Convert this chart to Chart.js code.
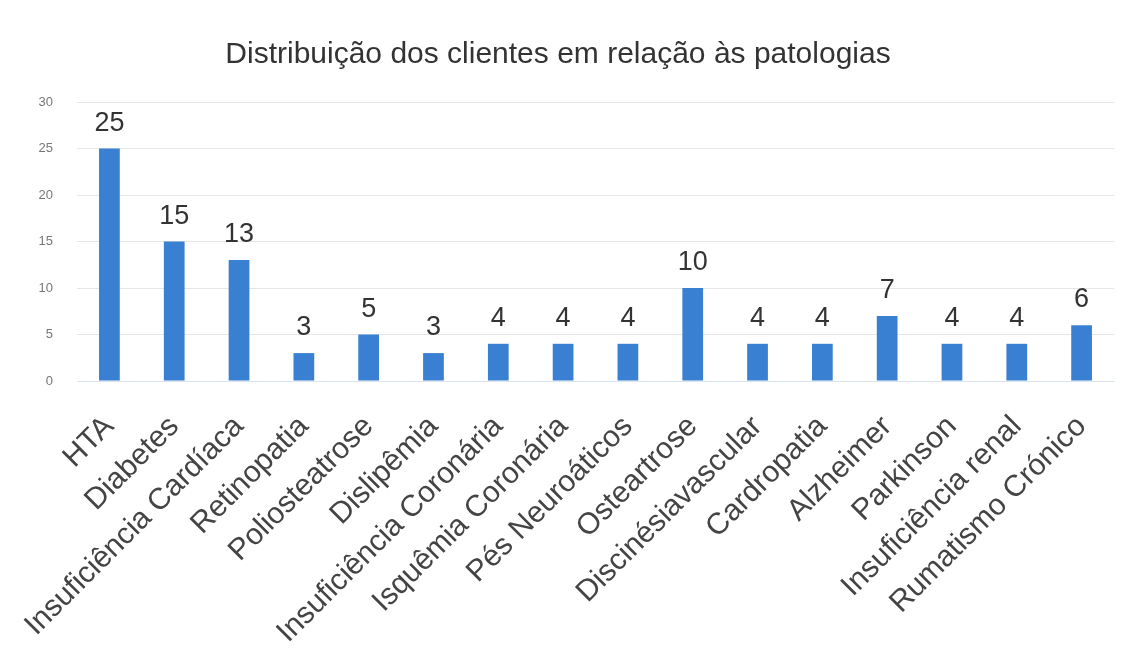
<!DOCTYPE html>
<html>
<head>
<meta charset="utf-8">
<script src="https://cdn.jsdelivr.net/npm/chart.js@4.4.0/dist/chart.umd.min.js"></script>
<style>
  html, body { margin: 0; padding: 0; background: #fff; }
  #wrap { width: 1139px; height: 666px; }
</style>
</head>
<body>
<div id="wrap"><canvas id="grafico" width="1139" height="666"></canvas></div>
<script>
// dados
const PATOLOGIAS = ['HTA', 'Diabetes', 'Insuficiência Cardíaca', 'Retinopatia', 'Poliosteatrose', 'Dislipêmia',
  'Insuficiência Coronária', 'Isquêmia Coronária', 'Pés Neuroáticos', 'Osteartrose', 'Discinésiavascular',
  'Cardropatia', 'Alzheimer', 'Parkinson', 'Insuficiência renal', 'Rumatismo Crónico'];
const CLIENTES = [25, 15, 13, 3, 5, 3, 4, 4, 4, 10, 4, 4, 7, 4, 4, 6];
const Y_TICKS = [0, 5, 10, 15, 20, 25, 30];

const FONTE = 'Liberation Sans, Arial, sans-serif';

// plugin simples para escrever o valor em cima de cada barra
const rotulosValor = {
  id: 'rotulosValor',
  afterDatasetsDraw(chart) {
    const ctx = chart.ctx;
    const meta = chart.getDatasetMeta(0);
    ctx.save();
    ctx.font = '27px ' + FONTE;
    ctx.fillStyle = '#333';
    ctx.textAlign = 'center';
    ctx.textBaseline = 'alphabetic';
    meta.data.forEach((bar, i) => {
      ctx.fillText(String(CLIENTES[i]), bar.x, bar.y - 18);
    });
    ctx.restore();
  }
};

new Chart(document.getElementById('grafico').getContext('2d'), {
  type: 'bar',
  data: {
    labels: PATOLOGIAS,
    datasets: [{
      data: CLIENTES,
      backgroundColor: '#3a80d2',
      barPercentage: 0.64,
      categoryPercentage: 0.5
    }]
  },
  options: {
    responsive: false,
    animation: false,
    layout: { padding: { left: 2, right: 25, top: 0, bottom: 0 } },
    plugins: {
      legend: { display: false },
      tooltip: { enabled: false },
      title: {
        display: true,
        text: 'Distribuição dos clientes em relação às patologias',
        color: '#333',
        font: { family: FONTE, size: 30, weight: 'normal' },
        padding: { top: 37, bottom: 29 }
      }
    },
    scales: {
      x: {
        grid: { display: false },
        border: { color: '#d9e3ee' },
        ticks: {
          color: '#444',
          font: { family: FONTE, size: 30 },
          minRotation: 45,
          maxRotation: 45,
          autoSkip: false,
          padding: 20
        },
        afterFit(axis) { axis.height = 285; }
      },
      y: {
        min: 0,
        max: 30,
        afterBuildTicks(axis) { axis.ticks = Y_TICKS.map(v => ({ value: v })); },
        grid: { color: '#e6e6e6', drawTicks: false },
        border: { display: false },
        ticks: {
          color: '#777',
          font: { family: FONTE, size: 13 },
          padding: 24
        },
        afterFit(axis) { axis.width = 75; }
      }
    }
  },
  plugins: [rotulosValor]
});
</script>
</body>
</html>
